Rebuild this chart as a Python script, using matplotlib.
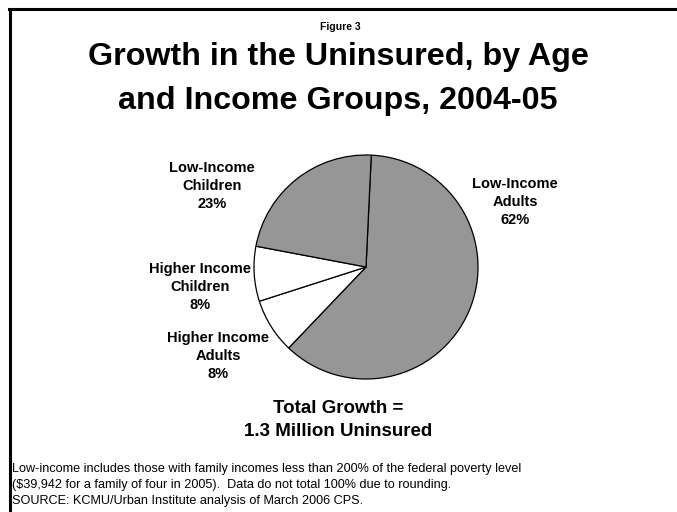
import matplotlib.pyplot as plt
from matplotlib.lines import Line2D

plt.rcParams["font.family"] = ["Liberation Sans", "DejaVu Sans"]

# slice data, clockwise from the top
groups = ["Low-Income\nAdults", "Higher Income\nAdults", "Higher Income\nChildren", "Low-Income\nChildren"]
shares = [62, 8, 8, 23]
colors = ["#969696", "#ffffff", "#ffffff", "#969696"]

title_lines = ["Growth in the Uninsured, by Age", "and Income Groups, 2004-05"]
note = ("Low-income includes those with family incomes less than 200% of the federal poverty level\n"
        "($39,942 for a family of four in 2005).  Data do not total 100% due to rounding.\n"
        "SOURCE: KCMU/Urban Institute analysis of March 2006 CPS.")

W, H = 677, 512
fig = plt.figure(figsize=(W / 100, H / 100), dpi=100)


def fx(px):
    return px / W


def fy(py):
    return 1 - py / H


# frame lines top and left
fig.add_artist(Line2D([fx(9), 1], [fy(9), fy(9)], color="black", lw=2.2, transform=fig.transFigure))
fig.add_artist(Line2D([fx(9.5), fx(9.5)], [fy(9), 0], color="black", lw=2.2, transform=fig.transFigure))

fig.text(fx(340), fy(27), "Figure 3", ha="center", va="center", fontsize=7.5, fontweight="bold")
for line, y in zip(title_lines, [57, 101]):
    fig.text(fx(338), fy(y), line, ha="center", va="center", fontsize=23.2, fontweight="bold")

cx, cy, r = 366, 267, 112
ax = fig.add_axes([fx(cx - r), fy(cy + r), 2 * r / W, 2 * r / H])
ax.pie(shares, colors=colors, startangle=87.3, counterclock=False,
       wedgeprops=dict(edgecolor="black", linewidth=0.9))
ax.set_xlim(-1, 1)
ax.set_ylim(-1, 1)
ax.set_aspect("auto")

label_pos = [(515, 202), (218, 356), (200, 287), (212, 186)]
for name, val, (x, y) in zip(groups, shares, label_pos):
    fig.text(fx(x), fy(y), f"{name}\n{val}%", ha="center", va="center",
             fontsize=10.5, fontweight="bold", linespacing=1.35)

fig.text(fx(338), fy(420), "Total Growth =\n1.3 Million Uninsured", ha="center", va="center",
         fontsize=13.5, fontweight="bold", linespacing=1.45)

fig.text(fx(12), fy(485), note, ha="left", va="center", fontsize=9.05, linespacing=1.42)

fig.savefig("out.png", dpi=100)
